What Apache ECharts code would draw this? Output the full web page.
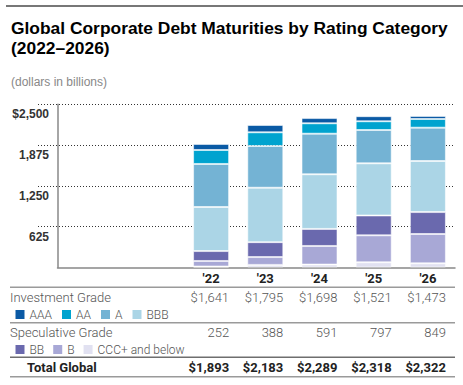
<!DOCTYPE html>
<html><head><meta charset="utf-8">
<script src="https://cdn.jsdelivr.net/npm/echarts@6/dist/echarts.min.js"></script>
<style>html,body{margin:0;padding:0;background:#fff}#c{width:463px;height:385px}</style>
</head><body><div id="c"></div>
<script>
const categories = ["'22", "'23", "'24", "'25", "'26"];
const aaa = [93, 112, 80, 78, 47];
const aa = [214, 210, 159, 134, 133];
const a = [659, 639, 622, 510, 511];
const bbb = [675, 834, 837, 799, 782];
const bb = [152, 228, 261, 304, 336];
const b = [85, 120, 285, 413, 449];
const ccc = [15, 40, 45, 80, 64];
const investmentGrade = ['$1,641', '$1,795', '$1,698', '$1,521', '$1,473'];
const speculativeGrade = ['252', '388', '591', '797', '849'];
const totalGlobal = ['$1,893', '$2,183', '$2,289', '$2,318', '$2,322'];
const yTickLabels = ['', '625', '1,250', '1,875', '$2,500'];

const colors = {AAA:'#0a5aa5', AA:'#00a3cf', A:'#74b3d4', BBB:'#abd5e6', BB:'#6a69ae', B:'#a8a8d6', CCC:'#e1e1f1'};
const light = '300 13px Roboto';
const chart = echarts.init(document.getElementById('c'), null, {renderer:'svg'});

function ser(name, data, color){
  return {name, type:'bar', stack:'total', data, xAxisIndex:2, yAxisIndex:2, barWidth:36,
    itemStyle:{color, borderColor:'rgba(255,255,255,0.55)', borderWidth:1}};
}
const legendText = {fontFamily:'Roboto', fontWeight:300, fontSize:12, color:'#555'};
function hline(y, dark){
  return {type:'line', shape:{x1:10, y1:y, x2:455, y2:y}, style:{stroke: dark ? '#6e6e6e' : '#9a9a9a', lineWidth:1.5}, silent:true};
}
function txt(text, x, y, font, fill, align){
  return {type:'text', silent:true, style:{text, x, y, font, fill, align:align||'left', verticalAlign:'middle', textAlign:align||'left', textVerticalAlign:'middle'}};
}

chart.setOption({
  animation:false,
  title:{text:'Global Corporate Debt Maturities by Rating Category\n(2022\u20132026)', left:6, top:13,
    textStyle:{fontFamily:'Liberation Sans', fontWeight:'bold', fontSize:17.4, color:'#000', lineHeight:20},
    subtext:'(dollars in billions)', itemGap:18,
    subtextStyle:{fontFamily:'Liberation Sans', fontSize:12, color:'#888'}},
  grid:[
    {left:38, right:10, top:104.3, bottom:117.5},
    {left:57.5, right:8, top:104.3, bottom:117.5},
    {left:184, right:8, top:104.3, bottom:117.5}
  ],
  xAxis:[
    {gridIndex:0, type:'category', data:[''], show:false},
    {gridIndex:1, type:'category', data:[''], axisLine:{lineStyle:{color:'#888', width:1.5}}, axisTick:{show:false}, axisLabel:{show:false}},
    {gridIndex:2, type:'category', data:categories, axisLine:{show:false}, axisTick:{show:false},
      axisLabel:{margin:4, fontFamily:'Roboto', fontWeight:'bold', fontSize:13, color:'#222'}}
  ],
  yAxis:[
    {gridIndex:0, type:'value', min:0, max:2500, interval:625, axisLine:{show:false}, axisTick:{show:false},
      splitLine:{show:true, showMinLine:false, lineStyle:{color:'#333', type:[1,2], width:1}},
      axisLabel:{margin:-11, verticalAlign:'top', padding:[4,0,0,0], fontFamily:'Liberation Sans', fontWeight:'bold', fontSize:12, color:'#333',
        formatter:(v, i)=>yTickLabels[i]}},
    {gridIndex:1, type:'value', min:0, max:2500, interval:625, axisLine:{show:true, lineStyle:{color:'#888', width:1.5}},
      axisTick:{show:false}, axisLabel:{show:false}, splitLine:{show:false}},
    {gridIndex:2, type:'value', min:0, max:2500, interval:625, show:false, splitLine:{show:false}}
  ],
  legend:[
    {data:['AAA','AA','A','BBB'], left:15.5, top:308.5, itemWidth:9, itemHeight:9, itemGap:10, icon:'rect', selectedMode:false, padding:0,
      itemStyle:{borderWidth:0, borderColor:'transparent'}, textStyle:legendText},
    {data:['BB','B',{name:'CCC+ and below'}], left:15.5, top:343.5, itemWidth:9, itemHeight:9, itemGap:9, icon:'rect', selectedMode:false, padding:0,
      itemStyle:{borderWidth:0, borderColor:'transparent'}, textStyle:legendText}
  ],
  series:[
    ser('CCC+ and below', ccc, colors.CCC),
    ser('B', b, colors.B),
    ser('BB', bb, colors.BB),
    ser('BBB', bbb, colors.BBB),
    ser('A', a, colors.A),
    ser('AA', aa, colors.AA),
    ser('AAA', aaa, colors.AAA)
  ]
});

const g = [
  {type:'line', shape:{x1:6, y1:6, x2:463, y2:6}, style:{stroke:'#777', lineWidth:2}, silent:true},
  hline(287.3), hline(322.7), hline(357.3, true), hline(376.7),
  txt('Investment Grade', 10, 297, light, '#555'),
  txt('Speculative Grade', 10, 332, light, '#555'),
  txt('Total Global', 27, 367.5, 'bold 13px Roboto', '#222')
];
categories.forEach((c, i)=>{
  const x = chart.convertToPixel({xAxisIndex:2}, c) + 18;
  g.push(txt(investmentGrade[i], x, 297, light, '#555', 'right'));
  g.push(txt(speculativeGrade[i], x, 332, light, '#555', 'right'));
  g.push(txt(totalGlobal[i], x, 367.5, 'bold 13px Roboto', '#222', 'right'));
});
chart.setOption({graphic:g});
</script></body></html>
